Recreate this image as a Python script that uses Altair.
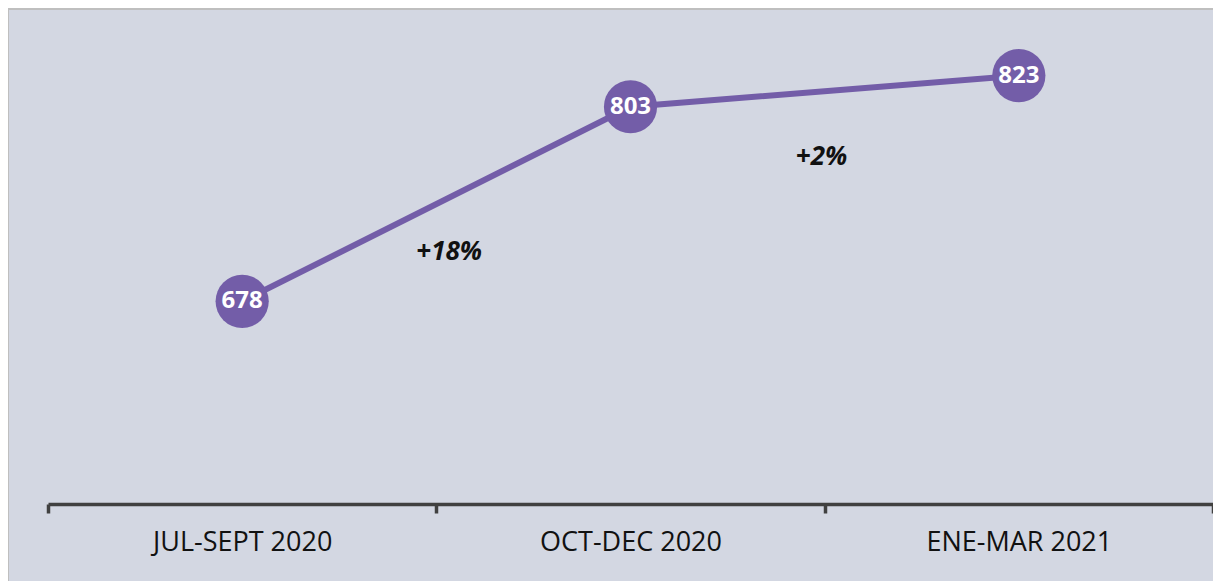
import altair as alt
import pandas as pd

categories = ["JUL-SEPT 2020", "OCT-DEC 2020", "ENE-MAR 2021"]
values = [678, 803, 823]
change_labels = ["+18%", "+2%"]
change_from = ["JUL-SEPT 2020", "OCT-DEC 2020"]
change_level = [710, 771]

df = pd.DataFrame({"period": categories, "value": values})
ann = pd.DataFrame({"period": change_from, "value": change_level, "label": change_labels})

PURPLE = "#735DA8"
BG = "#D3D7E2"
W, H = 1205, 573

x = alt.X(
    "period:N",
    sort=categories,
    title=None,
    scale=alt.Scale(range=[40, 1205], paddingInner=0, paddingOuter=0),
    axis=alt.Axis(
        tickBand="extent",
        domainColor="#404040",
        domainWidth=3.5,
        tickColor="#404040",
        tickWidth=3.5,
        tickSize=9,
        labelAngle=0,
        labelFont="Open Sans",
        labelFontSize=27,
        labelColor="#111111",
        labelPadding=16,
        labelLimit=0,
        offset=-(H - 496),
        grid=False,
    ),
)
y = alt.Y(
    "value:Q",
    axis=None,
    scale=alt.Scale(domain=[544, 860], range=[502, 10], zero=False, nice=False),
)

line = alt.Chart(df).mark_line(color=PURPLE, strokeWidth=6).encode(x=x, y=y)
pts = alt.Chart(df).mark_circle(color=PURPLE, opacity=1, size=2830).encode(x=x, y=y)
nums = alt.Chart(df).mark_text(
    color="white", font="Open Sans", fontWeight="bold", fontSize=24, baseline="middle"
).encode(x=x, y=y, text="value:Q")

ann_style = dict(color="#111111", font="Open Sans", fontWeight="bold", fontStyle="italic",
                 fontSize=26, baseline="middle")
ann1 = alt.Chart(ann).transform_filter(alt.datum.label == "+18%").mark_text(
    dx=207, **ann_style).encode(x=x, y=y, text="label:N")
ann2 = alt.Chart(ann).transform_filter(alt.datum.label == "+2%").mark_text(
    dx=191, **ann_style).encode(x=x, y=y, text="label:N")

border_top = alt.Chart(df).mark_rule(color="#BFBFBF", strokeWidth=2).encode(
    x=alt.value(0), x2=alt.value(W), y=alt.value(1))
border_left = alt.Chart(df).mark_rule(color="#BFBFBF", strokeWidth=2).encode(
    x=alt.value(0), y=alt.value(0), y2=alt.value(H))

chart = (
    alt.layer(border_top, border_left, line, pts, nums, ann1, ann2)
    .properties(width=W, height=H, padding=0, background=BG, autosize="none")
    .configure_view(fill=BG, stroke=None)
)

chart.save("out.html", embed_options={"renderer": "svg", "actions": False})
